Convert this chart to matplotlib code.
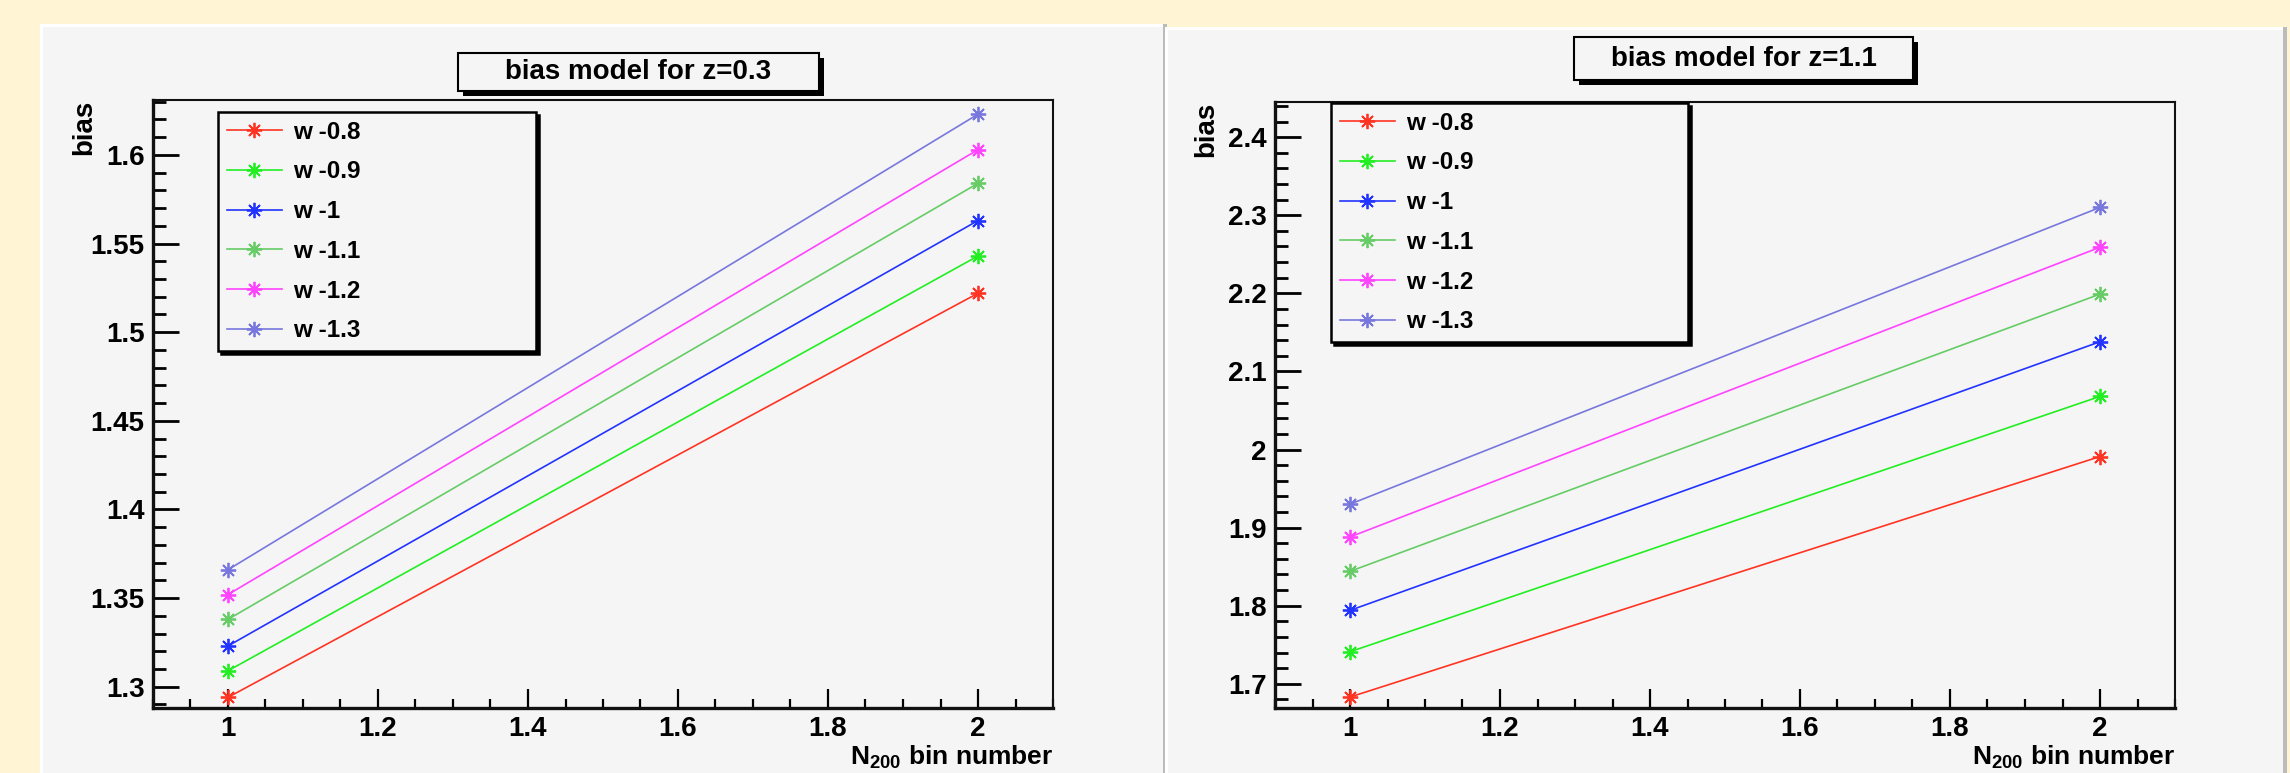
import matplotlib
matplotlib.use("Agg")
import matplotlib.pyplot as plt
from matplotlib.patches import Rectangle
from matplotlib.ticker import MultipleLocator, FuncFormatter

plt.rcParams['font.family'] = ['Liberation Sans', 'DejaVu Sans']
plt.rcParams['font.weight'] = 'bold'
plt.rcParams['mathtext.fontset'] = 'custom'
plt.rcParams['mathtext.rm'] = 'Liberation Sans:bold'
plt.rcParams['mathtext.bf'] = 'Liberation Sans:bold'
plt.rcParams['mathtext.it'] = 'Liberation Sans:bold'

# N200 bins and the bias for each dark energy w
x_bins = [1, 2]
w_labels = ['w -0.8', 'w -0.9', 'w -1', 'w -1.1', 'w -1.2', 'w -1.3']
colors = ['#ff3322', '#22ee22', '#2233ff', '#66cc66', '#ff44ff', '#7777dd']

bias_z03_bin1 = [1.294, 1.309, 1.323, 1.338, 1.352, 1.366]
bias_z03_bin2 = [1.522, 1.543, 1.563, 1.584, 1.603, 1.623]
bias_z11_bin1 = [1.683, 1.741, 1.794, 1.844, 1.888, 1.930]
bias_z11_bin2 = [1.991, 2.068, 2.138, 2.199, 2.259, 2.310]

W, H = 2290, 773
fig = plt.figure(figsize=(W / 100, H / 100), dpi=100)
fig.patch.set_facecolor('#fff5d5')

def px_rect(x0, y0, x1, y1, **kw):
    # rectangle given in pixel coords (y downwards)
    r = Rectangle((x0 / W, 1 - y1 / H), (x1 - x0) / W, (y1 - y0) / H,
                  transform=fig.transFigure, **kw)
    fig.patches.append(r)
    return r

# canvas pads with bevel edges
for (x0, y0, x1, y1) in [(40, 24, 1163, 773), (1165, 27, 2283, 773)]:
    px_rect(x0, y0, x1 + 4, y1, facecolor='#bbbbbb', edgecolor='none', zorder=-3)
    px_rect(x0, y0, x1, y1, facecolor='white', edgecolor='none', zorder=-2)
    px_rect(x0 + 3, y0 + 3, x1, y1, facecolor='#f5f5f5', edgecolor='none', zorder=-1)

panels = [
    dict(box=(153, 100, 1053, 708), ylim=(1.288, 1.631), ymaj=0.05, ymin=0.01,
         y1=bias_z03_bin1, y2=bias_z03_bin2, title='bias model for z=0.3',
         tbox=(458, 53, 819, 91), leg=(218, 112, 536, 348)),
    dict(box=(1275, 102, 2175, 708), ylim=(1.669, 2.445), ymaj=0.1, ymin=0.02,
         y1=bias_z11_bin1, y2=bias_z11_bin2, title='bias model for z=1.1',
         tbox=(1574, 37, 1913, 80), leg=(1331, 103, 1688, 355)),
]

fmt = FuncFormatter(lambda v, p: '%g' % round(v, 4))

for p in panels:
    bx0, by0, bx1, by1 = p['box']
    ax = fig.add_axes([bx0 / W, 1 - by1 / H, (bx1 - bx0) / W, (by1 - by0) / H])
    ax.set_facecolor('#f5f5f5')
    for i, lab in enumerate(w_labels):
        ax.plot(x_bins, [p['y1'][i], p['y2'][i]], color=colors[i], lw=1.2,
                marker=(8, 2, 0), markersize=11, markeredgewidth=1.3,
                markeredgecolor=colors[i], label=lab)
    ax.set_xlim(0.9, 2.1)
    ax.set_ylim(*p['ylim'])
    ax.xaxis.set_major_locator(MultipleLocator(0.2))
    ax.xaxis.set_minor_locator(MultipleLocator(0.05))
    ax.yaxis.set_major_locator(MultipleLocator(p['ymaj']))
    ax.yaxis.set_minor_locator(MultipleLocator(p['ymin']))
    ax.xaxis.set_major_formatter(fmt)
    ax.yaxis.set_major_formatter(fmt)
    ax.tick_params(axis='both', which='both', direction='in', labelsize=20,
                   color='black', top=False, right=False)
    ax.tick_params(axis='y', which='major', length=19, width=2, pad=6)
    ax.tick_params(axis='y', which='minor', length=9.5, width=2)
    ax.tick_params(axis='x', which='major', length=13.5, width=1.6, pad=6)
    ax.tick_params(axis='x', which='minor', length=6.5, width=1.6)
    ax.spines['left'].set_linewidth(2.4)
    ax.spines['bottom'].set_linewidth(2.4)
    ax.spines['top'].set_linewidth(1.5)
    ax.spines['right'].set_linewidth(1.5)
    for s in ax.spines.values():
        s.set_color('#111111')
    ax.set_ylabel('bias', loc='top', fontsize=20, fontweight='bold')
    ax.yaxis.set_label_coords(-0.062, 1.0)
    ax.set_xlabel(r'N$_{200}$ bin number', loc='right', fontsize=19,
                  fontweight='bold', labelpad=1)

    # legend box
    lx0, ly0, lx1, ly1 = p['leg']
    ax_w, ax_h = bx1 - bx0, by1 - by0
    anchor = ((lx0 - bx0) / ax_w, (by1 - ly1) / ax_h,
              (lx1 - lx0) / ax_w, (ly1 - ly0) / ax_h)
    leg = ax.legend(loc='upper left', bbox_to_anchor=anchor, mode='expand',
                    borderaxespad=0, fontsize=17.5, numpoints=1, handlelength=2.3,
                    handletextpad=0.42, labelspacing=0.69, borderpad=0.35,
                    fancybox=False, framealpha=1, facecolor='#f5f5f5',
                    edgecolor='black', shadow={'color': 'black', 'alpha': 1})
    leg.get_frame().set_linewidth(1.8)

    # title box with shadow
    tx0, ty0, tx1, ty1 = p['tbox']
    px_rect(tx0 + 5, ty0 + 5, tx1 + 5, ty1 + 5, facecolor='black', edgecolor='none', zorder=2)
    px_rect(tx0, ty0, tx1, ty1, facecolor='#f5f5f5', edgecolor='black', lw=1.5, zorder=3)
    fig.text((tx0 + tx1) / 2 / W, 1 - (ty0 + ty1) / 2 / H, p['title'], fontsize=20,
             fontweight='bold', ha='center', va='center', zorder=4)

fig.savefig('out.png', dpi=100, facecolor=fig.get_facecolor())
